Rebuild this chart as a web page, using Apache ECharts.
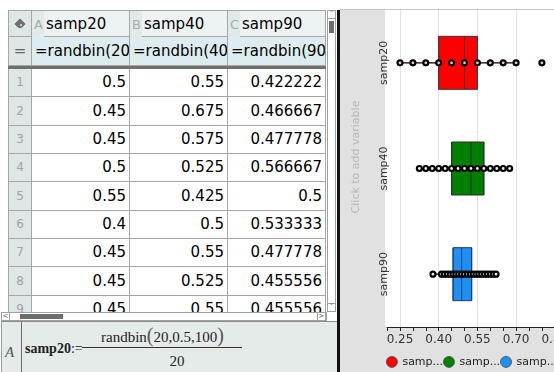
<!DOCTYPE html>
<html><head><meta charset="utf-8">
<script src="https://cdn.jsdelivr.net/npm/echarts@6.0.0/dist/echarts.min.js"></script>
<style>
*{box-sizing:border-box;}
html,body{margin:0;padding:0;width:554px;height:372px;overflow:hidden;background:#fff;font-family:"DejaVu Sans",sans-serif;}
#sheet{position:absolute;left:0;top:0;width:337px;height:372px;}
#chartWrap{position:absolute;left:340px;top:10px;width:214px;height:362px;overflow:hidden;}
#chart{position:absolute;left:0;top:0;width:260px;height:362px;}
</style></head><body>
<div id="sheet"></div>
<div style="position:absolute;left:337px;top:10px;width:3px;height:362px;background:#111;"></div>
<div style="position:absolute;left:340px;top:9px;width:214px;height:1px;background:#c4c4c4;"></div>
<div id="chartWrap"><div id="chart"></div></div>
<script>
// ---------- spreadsheet data ----------
const colLetters = ['A', 'B', 'C'];
const colNames = ['samp20', 'samp40', 'samp90'];
const colFormulas = ['=randbin(20,0.5,100)/20', '=randbin(40,0.5,100)/40', '=randbin(90,0.5,100)/90'];
const colA = [0.5, 0.45, 0.45, 0.5, 0.55, 0.4, 0.45, 0.45, 0.45];
const colB = [0.55, 0.675, 0.575, 0.525, 0.425, 0.5, 0.55, 0.525, 0.55];
const colC = [0.422222, 0.466667, 0.477778, 0.566667, 0.5, 0.533333, 0.477778, 0.455556, 0.455556];

// ---------- box plot data ----------
const categories = ['samp20', 'samp40', 'samp90'];
const boxQ1 = [0.40, 0.45, 0.455556];
const boxMedian = [0.50, 0.525, 0.488889];
const boxQ3 = [0.55, 0.575, 0.527778];
const whiskerLow = [0.25, 0.325, 0.377778];
const whiskerHigh = [0.70, 0.675, 0.622222];
const samp20Points = [0.25, 0.30, 0.35, 0.40, 0.45, 0.50, 0.55, 0.60, 0.65, 0.70, 0.80];
const samp40Points = [0.325, 0.35, 0.375, 0.4, 0.425, 0.45, 0.475, 0.5, 0.525, 0.55, 0.575, 0.6, 0.625, 0.65, 0.675];
const samp90Points = [0.377778, 0.411111, 0.422222, 0.433333, 0.444444, 0.455556, 0.466667, 0.477778, 0.488889, 0.5, 0.511111, 0.522222, 0.533333, 0.544444, 0.555556, 0.566667, 0.577778, 0.588889, 0.6, 0.611111, 0.622222];
const xTickLabels = [0.25, 0.40, 0.55, 0.70, 0.85];

// ---------- build spreadsheet (HTML) ----------
const sheet = document.getElementById('sheet');
function box(parent, l, t, w, h, css, text) {
  const d = document.createElement('div');
  d.style.cssText = 'position:absolute;left:' + l + 'px;top:' + t + 'px;width:' + w + 'px;height:' + h + 'px;' + (css || '');
  if (text != null) d.textContent = text;
  parent.appendChild(d);
  return d;
}
const clip = box(sheet, 8, 10, 319, 302, 'overflow:hidden;');
const OX = 8, OY = 10;
const colX = [32, 130, 228, 326];
const border = 'border-right:1px solid #a6a6a6;border-bottom:1px solid #a6a6a6;';
const cellTxt = 'white-space:nowrap;overflow:hidden;font-size:15px;color:#000;';
// header row
box(clip, 0, 0, 24, 27, border + 'background:#dfe6e6;border-top:1px solid #a6a6a6;border-left:1px solid #a6a6a6;');
box(clip, 8, 10, 8, 8, 'background:#707070;transform:rotate(45deg);border-radius:1px 1px 4px 1px;');
box(clip, 11.5, 13.5, 2, 2, 'background:#dfe6e6;border-radius:1px;');
for (let i = 0; i < 3; i++) {
  const c = box(clip, colX[i] - OX, 0, colX[i + 1] - colX[i], 27, border + 'background:#edf3f3;border-top:1px solid #a6a6a6;');
  box(c, 0, 0, 12, 26, 'background:#e1e9e9;font-size:13px;color:#a9a9a9;line-height:27px;padding-left:2px;', colLetters[i]);
  box(c, 14, 0, 80, 26, cellTxt + 'line-height:26px;', colNames[i]);
}
// formula row
box(clip, 0, 27, 24, 29, border + 'background:#dfe6e6;border-left:1px solid #a6a6a6;text-align:center;line-height:28px;font-size:15px;color:#666;', '=');
for (let i = 0; i < 3; i++) {
  box(clip, colX[i] - OX, 27, colX[i + 1] - colX[i], 29, border + cellTxt + 'background:#ddedef;line-height:28px;padding-left:3px;', colFormulas[i]);
}
box(clip, 0, 56, 318, 3, 'background:#6f6f6f;');
// data rows
const rowTops = [68, 96, 125, 153, 181, 210, 238, 266, 295, 323];
const cols = [colA, colB, colC];
for (let r = 0; r < colA.length; r++) {
  const t = rowTops[r] - OY + 1, h = rowTops[r + 1] - rowTops[r];
  box(clip, 0, t, 24, h, border + 'background:#dfe6e6;border-left:1px solid #a6a6a6;text-align:center;font-size:12px;color:#a2a2a2;line-height:' + (h - 1) + 'px;', String(r + 1));
  for (let i = 0; i < 3; i++) {
    const v = cols[i][r];
    box(clip, colX[i] - OX, t, colX[i + 1] - colX[i], h, border + cellTxt + 'background:#fff;text-align:right;padding-right:3px;line-height:' + (h - 1) + 'px;', String(Number(v.toFixed(6))));
  }
}
// scrollbars
const sbCss = 'background:#fff;border:1px solid #a0a0a0;';
const arrowCss = 'background:#fff;border:1px solid #a0a0a0;font-size:7px;color:#666;text-align:center;line-height:7px;';
box(sheet, 327, 10, 9, 302, sbCss);
box(sheet, 327, 10, 9, 9, arrowCss, '\u02C4');
box(sheet, 329, 21, 5, 12, 'background:#6c6c6c;');
box(sheet, 327, 303, 9, 9, arrowCss, '\u02C5');
box(sheet, 1, 312, 326, 9, sbCss);
box(sheet, 1, 312, 9, 9, arrowCss, '<');
box(sheet, 20, 314, 43, 5, 'background:#6c6c6c;');
box(sheet, 317, 312, 9, 9, arrowCss, '>');
// entry line
const fb = box(sheet, 1, 321, 336, 51, 'background:#e5ebe9;border-top:1px solid #8c8c8c;border-left:1px solid #9c9c9c;font-family:"Liberation Serif",serif;color:#222;');
box(fb, 0, 0, 20, 51, 'border-right:1px solid #6a6a6a;font-style:italic;font-size:15px;color:#555;line-height:15px;padding:23px 0 0 3px;', 'A');
const lhs = box(fb, 23, 17, 80, 20, 'font-size:14px;line-height:20px;white-space:nowrap;');
lhs.innerHTML = '<b>samp20</b>:=';
box(fb, 80, 25, 160, 1, 'background:#333;');
const num = box(fb, 99, 2, 150, 22, 'font-size:15px;line-height:22px;white-space:nowrap;');
num.innerHTML = 'randbin<span style="font-size:20px;color:#555">(</span>20,0.5,100<span style="font-size:20px;color:#555">)</span>';
box(fb, 160, 29, 30, 20, 'font-size:15px;line-height:20px;text-align:center;', '20');

// ---------- chart ----------
const boxColors = ['#ff0000', '#008000', '#1e8ff5'];
const boxBorders = ['#3a3a3a', '#2a2a2a', '#1f3d66'];
const pointFills = ['#f3c6c6', '#e9efe9', '#e8eef6'];
const pointSets = [samp20Points, samp40Points, samp90Points];
const isLabelTick = v => xTickLabels.some(t => Math.abs(t - v) < 1e-9);

const chart = echarts.init(document.getElementById('chart'), null, {renderer: 'canvas'});
const series = [];
series.push({
  type: 'line', data: [], silent: true, z: 1,
  markLine: {
    silent: true, symbol: 'none', label: {show: false}, animation: false, z: 1,
    lineStyle: {color: '#e2e2e2', width: 1, type: 'solid'},
    data: xTickLabels.map(v => ({xAxis: v}))
  }
});
categories.forEach((c, i) => {
  series.push({
    type: 'line', silent: true, z: 2, symbol: 'none',
    lineStyle: {color: '#000', width: 1.3},
    data: [[whiskerLow[i], c], [whiskerHigh[i], c]]
  });
});
series.push({
  type: 'boxplot', silent: true, z: 3, boxWidth: [53, 53],
  data: categories.map((c, i) => ({
    value: [boxQ1[i], boxQ1[i], boxMedian[i], boxQ3[i], boxQ3[i]],
    itemStyle: {color: boxColors[i], borderColor: boxBorders[i], borderWidth: 1}
  }))
});
categories.forEach((c, i) => {
  series.push({
    type: 'scatter', name: c, silent: true, z: 5, symbol: 'circle', symbolSize: 5,
    itemStyle: {color: pointFills[i], borderColor: '#000', borderWidth: 2.2, opacity: 1},
    data: pointSets[i].map(v => [v, c])
  });
});

chart.setOption({
  animation: false,
  backgroundColor: '#e1e1e1',
  textStyle: {fontFamily: '"DejaVu Sans", sans-serif'},
  grid: {left: 47.1, top: 0, width: 180.6, height: 317, show: false},
  graphic: {elements: [
    {type: 'rect', z: -10, shape: {x: 45, y: 0, width: 215, height: 317}, style: {fill: '#ffffff'}},
    {type: 'text', z: -5, x: 16.5, y: 147, rotation: Math.PI / 2,
     style: {text: 'Click to add variable', fill: '#b6b6b6', fontSize: 11, fontFamily: 'DejaVu Sans', align: 'center', verticalAlign: 'middle'}}
  ]},
  xAxis: {
    type: 'value', min: 0.2, max: 0.9, interval: 0.05,
    axisLine: {show: true, onZero: false, lineStyle: {color: '#222', width: 1}},
    axisTick: {show: true, length: 4, lineStyle: {color: '#222'}},
    splitLine: {show: false},
    axisLabel: {color: '#333', fontSize: 12, margin: 7,
      formatter: v => isLabelTick(v) ? v.toFixed(2) : ''}
  },
  yAxis: {
    type: 'category', data: categories, inverse: true,
    axisLine: {show: false}, axisTick: {show: false}, splitLine: {show: false},
    axisLabel: {rotate: 90, color: '#333', fontSize: 11, margin: -3}
  },
  legend: {
    left: 46, top: 346, padding: 0, itemGap: 0, itemWidth: 11, itemHeight: 11,
    icon: 'circle', selectedMode: false,
    data: categories.map((c, i) => ({name: c, itemStyle: {color: boxColors[i], borderColor: '#4a4a4a', borderWidth: 0.8}})),
    formatter: n => n.slice(0, 4) + '...',
    textStyle: {fontSize: 11, color: '#222'}
  },
  series: series
});
</script>
</body></html>
